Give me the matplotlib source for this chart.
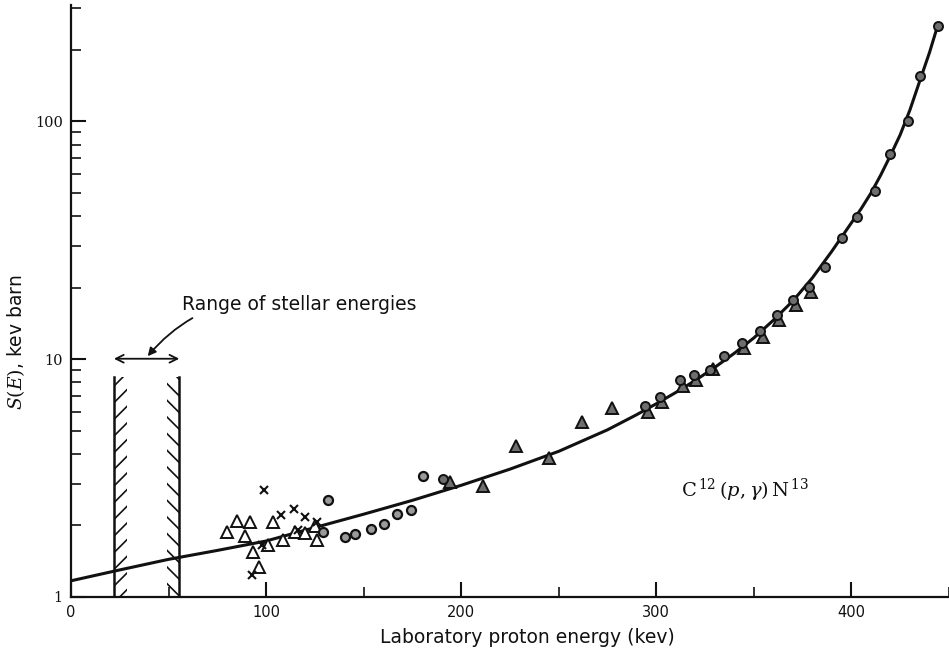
import matplotlib
matplotlib.use("Agg")
import matplotlib.pyplot as plt
from matplotlib.ticker import LogLocator, MultipleLocator, FixedLocator, FuncFormatter, NullFormatter

plt.rcParams["mathtext.fontset"] = "dejavuserif"
plt.rcParams["hatch.linewidth"] = 1.2

# S-factor curve for C12(p,gamma)N13 (lab energy in keV, S in keV barn)
curve_E = [0, 25, 50, 75, 100, 125, 150, 175, 200, 225, 250, 275, 290, 300, 310,
           320, 330, 340, 350, 360, 370, 380, 390, 400, 405, 410, 415, 420, 425,
           430, 435, 440, 444]
curve_S = [1.17, 1.30, 1.44, 1.57, 1.72, 1.96, 2.23, 2.55, 2.95, 3.45, 4.1, 5.05,
           5.85, 6.5, 7.25, 8.15, 9.25, 10.6, 12.3, 14.6, 17.6, 22.0, 28.5, 37.5, 43,
           50, 59.5, 72, 88, 112, 148, 195, 250]

# open triangles
tri_open_E = [79.8, 85.3, 91.8, 89.2, 93.2, 96.1, 101.2, 103.4, 108.9, 114.9, 120.0, 126.0, 125.1]
tri_open_S = [1.87, 2.08, 2.06, 1.81, 1.54, 1.34, 1.66, 2.06, 1.74, 1.88, 1.85, 1.74, 1.98]

# crosses
cross_E = [99.1, 92.7, 107.7, 114.4, 120.0, 126.0, 97.8, 116.2]
cross_S = [2.82, 1.24, 2.21, 2.34, 2.17, 2.06, 1.66, 1.91]

# open circles
circ_open_E = [131.9, 129.1, 140.5, 145.6, 153.7, 160.2, 167.3, 174.2, 180.4]
circ_open_S = [2.55, 1.88, 1.78, 1.84, 1.94, 2.03, 2.23, 2.32, 3.24]

# filled circles
circ_fill_E = [190.5, 294.4, 302.1, 312.3, 319.1, 327.7, 334.5, 343.9, 353.3, 361.9,
               370.1, 378.1, 386.7, 395.2, 402.9, 412.3, 419.6, 428.9, 435.0, 444.3]
circ_fill_S = [3.15, 6.33, 6.97, 8.20, 8.61, 9.03, 10.27, 11.7, 13.1, 15.4,
               17.8, 20.1, 24.4, 32.4, 39.7, 51.2, 73.3, 100.3, 156, 252]

# filled triangles
tri_fill_E = [194.5, 211.1, 228.2, 244.8, 261.9, 277.3, 295.5, 303.0, 313.5, 320.5,
              329.0, 345.0, 354.5, 363.0, 371.5, 379.5]
tri_fill_S = [3.05, 2.93, 4.32, 3.84, 5.42, 6.23, 6.0, 6.6, 7.7, 8.15,
              9.1, 11.1, 12.4, 14.6, 16.9, 19.2]

# range of stellar energies
stellar_lo, stellar_hi = 22.0, 55.5
stellar_top = 8.45
arrow_S = 10.05

y_major = [1, 10, 100]

fig = plt.figure(figsize=(9.49, 6.59), dpi=100)
ax = fig.add_axes([71 / 949, 62 / 659, 878 / 949, 592 / 659])
ax.set_yscale("log")
ax.set_xlim(0, 450)
ax.set_ylim(1, 10 ** 2.49)

ink = "#111111"
gray = "#6e6e6e"

ax.plot(curve_E, curve_S, color=ink, lw=2.2, zorder=3, solid_capstyle="round",
        solid_joinstyle="round")

ax.plot(tri_open_E, tri_open_S, linestyle="none", marker="^", ms=8.5,
        mfc="white", mec=ink, mew=1.4, zorder=4)
ax.plot(cross_E, cross_S, linestyle="none", marker="x", ms=6,
        mec=ink, mew=1.5, zorder=4)
ax.plot(circ_open_E, circ_open_S, linestyle="none", marker="o", ms=6.5,
        mfc="#9a9a9a", mec=ink, mew=1.6, zorder=4)
ax.plot(tri_fill_E, tri_fill_S, linestyle="none", marker="^", ms=8,
        mfc=gray, mec=ink, mew=1.4, zorder=4)
ax.plot(circ_fill_E, circ_fill_S, linestyle="none", marker="o", ms=6.5,
        mfc=gray, mec=ink, mew=1.4, zorder=5)

# hatched bounds of the stellar-energy window
hw = 6.5
ax.fill_betweenx([1, stellar_top], stellar_lo, stellar_lo + hw, facecolor="none",
                 edgecolor=ink, hatch="//", linewidth=0, zorder=2)
ax.fill_betweenx([1, stellar_top], stellar_hi - hw, stellar_hi, facecolor="none",
                 edgecolor=ink, hatch="\\\\", linewidth=0, zorder=2)
ax.plot([stellar_lo, stellar_lo], [1, stellar_top], color=ink, lw=1.8, zorder=3)
ax.plot([stellar_hi, stellar_hi], [1, stellar_top], color=ink, lw=1.8, zorder=3)

ax.annotate("", xy=(stellar_lo, arrow_S), xytext=(stellar_hi, arrow_S),
            arrowprops=dict(arrowstyle="<->", color=ink, lw=1.3,
                            shrinkA=0, shrinkB=0, mutation_scale=14))
ax.annotate("Range of stellar energies", xy=(39.3, 10.3), xytext=(57.0, 17.0),
            fontsize=13.5, ha="left", va="center", color=ink,
            arrowprops=dict(arrowstyle="-|>", color=ink, lw=1.3, shrinkA=2, shrinkB=0,
                            connectionstyle="arc3,rad=0.3", mutation_scale=12))

ax.text(345.6, 2.82, r"C$^{\,12}\,(p,\gamma)\,$N$^{\,13}$", fontsize=14,
        family="DejaVu Serif", ha="center", va="center", color=ink)

for side in ("top", "right"):
    ax.spines[side].set_visible(False)
for side in ("left", "bottom"):
    ax.spines[side].set_linewidth(1.6)
    ax.spines[side].set_color(ink)

ax.xaxis.set_major_locator(MultipleLocator(100))
ax.xaxis.set_minor_locator(MultipleLocator(50))
ax.yaxis.set_major_locator(FixedLocator(y_major))
ax.yaxis.set_minor_locator(LogLocator(base=10, subs=[2, 3, 4, 5, 6, 7, 8, 9]))
ax.yaxis.set_major_formatter(FuncFormatter(lambda v, p: f"{v:g}"))
ax.yaxis.set_minor_formatter(NullFormatter())

ax.tick_params(which="both", direction="in", colors=ink, labelsize=10.5)
ax.tick_params(which="major", length=11, width=1.5)
ax.tick_params(which="minor", length=7, width=1.2)
ax.tick_params(axis="x", pad=6)
ax.tick_params(axis="y", pad=6)
for lab in ax.get_yticklabels():
    lab.set_family("DejaVu Serif")

ax.set_xlabel("Laboratory proton energy (kev)", fontsize=13.5, color=ink)
ax.set_ylabel(r"$S(E)$, kev barn", fontsize=13.5, color=ink)
ax.xaxis.set_label_coords(0.52, -0.052)
ax.yaxis.set_label_coords(-0.050, 0.43)

fig.savefig("out.png", dpi=100)
